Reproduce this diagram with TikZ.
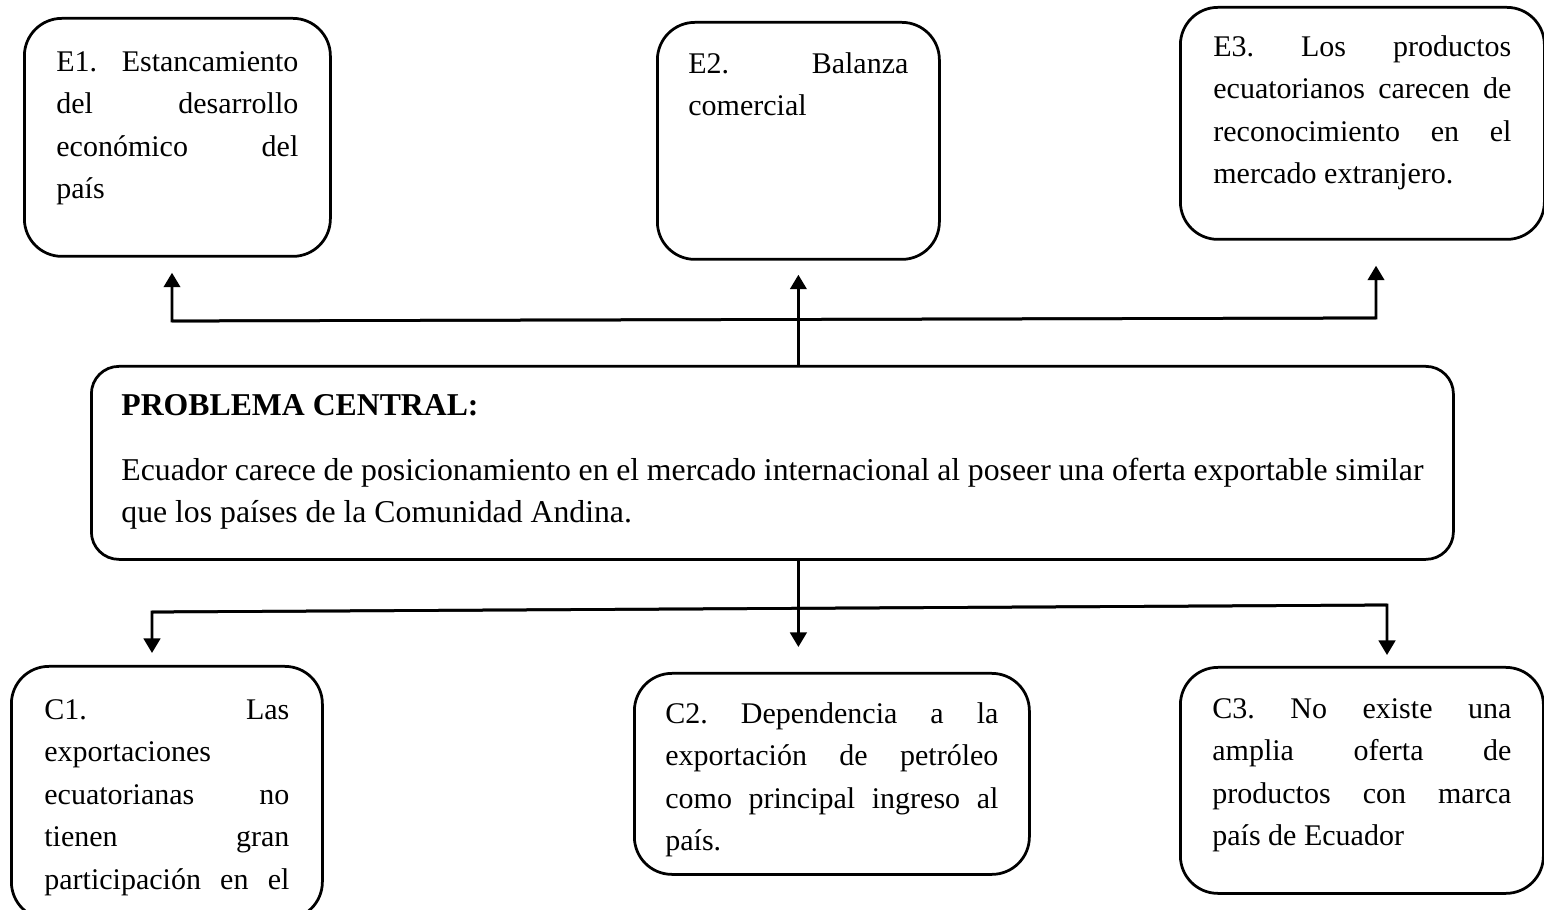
\documentclass[tikz,border=0pt]{standalone}
\usepackage{fontspec}
\setmainfont{Liberation Serif}
\usetikzlibrary{arrows.meta}

\tolerance=10000
\hbadness=10000
\hyphenpenalty=10000
\frenchspacing

% texto justificado de alto fijo, alineado arriba
\newcommand{\boxtext}[3]{\parbox[t][#2][t]{#1}{\strut #3}}

\begin{document}
\begin{tikzpicture}[
  x=0.4pt, y=-0.4pt,
  tbox/.style={draw=black, line width=1.1pt, rounded corners=15pt, anchor=north west, font=\fontsize{12}{17}\selectfont},
  link/.style={line width=1.1pt, draw=black},
  arr/.style={link, -{Triangle[length=5.8pt, width=6.6pt]}}
]
  % Caja delimitadora del dibujo
  \useasboundingbox (0,0) rectangle (1544,910);

  % Efectos
  \node[tbox, inner xsep=12.8pt, inner ysep=9.2pt] (e1) at (23,17)
    {\boxtext{96.8pt}{76.8pt}{E1. Estancamiento\linebreak del desarrollo\linebreak económico del\linebreak país}};
  \node[tbox, inner xsep=12.4pt, inner ysep=8.4pt] (e2) at (656,21)
    {\boxtext{88pt}{78pt}{E2. Balanza\linebreak comercial}};
  \node[tbox, inner xsep=13.2pt, inner ysep=7.6pt] (e3) at (1179,6)
    {\boxtext{119.2pt}{77.6pt}{E3. Los productos\linebreak ecuatorianos carecen de\linebreak reconocimiento en el\linebreak mercado extranjero.}};

  % Problema central
  \node[tbox, rounded corners=11pt, inner xsep=12pt, inner ysep=7.6pt, font=\fontsize{12.7}{17}\selectfont] (cp) at (90,365)
    {\boxtext{520.8pt}{62pt}{{\bfseries PROBLEMA CENTRAL:}\par\vspace{9pt}Ecuador carece de posicionamiento en el mercado internacional al poseer una oferta exportable similar\linebreak que los países de la Comunidad Andina.}};

  % Causas
  \node[tbox, inner xsep=13.2pt, inner ysep=9.2pt] (c1) at (10,665)
    {\boxtext{98pt}{82.8pt}{\parfillskip=0pt\relax C1. Las\linebreak exportaciones\linebreak ecuatorianas no\linebreak tienen gran\linebreak participación en el}};
  \node[tbox, inner xsep=12.4pt, inner ysep=8pt] (c2) at (633,672)
    {\boxtext{133.2pt}{64.4pt}{C2. Dependencia a la\linebreak exportación de petróleo\linebreak como principal ingreso al\linebreak país.}};
  \node[tbox, inner xsep=12.8pt, inner ysep=8.4pt] (c3) at (1179,666)
    {\boxtext{119.6pt}{73.6pt}{C3. No existe una\linebreak amplia oferta de\linebreak productos con marca\linebreak país de Ecuador}};

  % Flechas hacia los efectos
  \coordinate (tl) at (172,321);
  \coordinate (tr) at (1376,318);
  \draw[arr, shorten >=6pt] (tr) -- (tl) -- (tl |- e1.south);
  \draw[arr, shorten >=10pt] (tl) -- (tr) -- (tr |- e3.south);
  \draw[arr, shorten >=5.6pt] (e2.south |- cp.north) -- (e2.south);

  % Flechas hacia las causas
  \coordinate (bl) at (152,612);
  \coordinate (br) at (1387,605);
  \draw[arr, shorten >=4.8pt] (br) -- (bl) -- (bl |- c1.north);
  \draw[arr, shorten >=4.4pt] (bl) -- (br) -- (br |- c3.north);
  \draw[arr, shorten >=10pt] (e2.south |- cp.south) -- (e2.south |- c2.north);
\end{tikzpicture}
\end{document}
